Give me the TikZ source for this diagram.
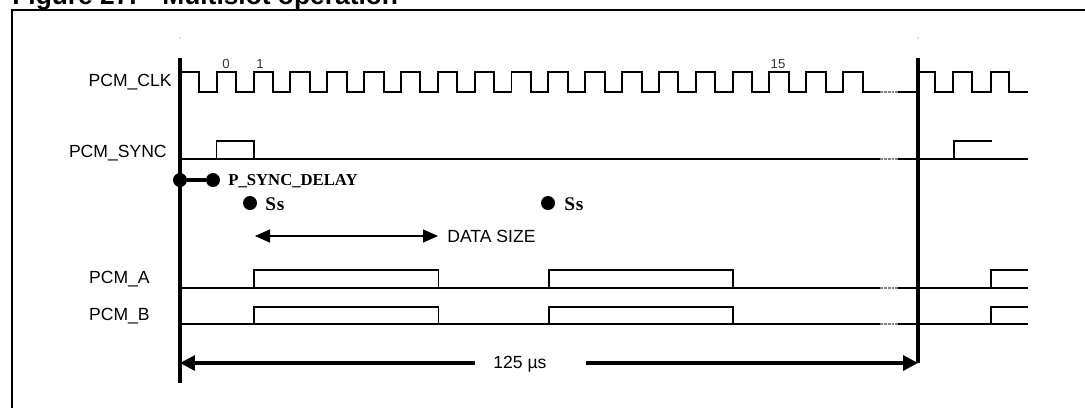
\documentclass[tikz,border=0pt]{standalone}
\usepackage{fontspec}
\setmainfont{Liberation Sans}
\newfontfamily\serifbold{Liberation Serif}
\usetikzlibrary{arrows.meta}

\tikzset{
	tdpicture/.style = {
		x = 0.02cm,
		y = -0.02cm,
		font = \fontsize{10}{12}\selectfont,
		line join = miter,
	},
	frame/.style = {
		draw,
		line width = 1.3pt,
	},
	wave/.style = {
		draw,
		line width = 0.8pt,
	},
	wave-clk/.style = {
		draw,
		line width = 1.1pt,
	},
	wave-gap/.style = {
		draw = gray,
		line width = 1pt,
		dash pattern = on 1.6pt off 0.6pt,
	},
	marker/.style = {
		draw,
		line width = 1.8pt,
	},
	sig/.style = {
		anchor = east,
		inner sep = 0pt,
	},
	bit/.style = {
		font = \fontsize{7.5}{9}\selectfont,
		text = black!80,
		inner sep = 0pt,
	},
	dot/.style = {
		circle,
		fill = black,
		inner sep = 0pt,
		minimum size = 0.28cm,
	},
	note/.style = {
		anchor = west,
		inner sep = 0pt,
		font = \serifbold\bfseries\fontsize{9.5}{11}\selectfont,
	},
	title/.style = {
		anchor = base west,
		inner sep = 0pt,
		font = \bfseries\fontsize{15}{17}\selectfont,
	},
	dim-arrow/.style = {
		draw,
		line width = 0.8pt,
		{Triangle[length = 0.3cm, width = 0.26cm]}-{Triangle[length = 0.3cm, width = 0.26cm]},
	},
	period-arrow/.style = {
		draw,
		line width = 1.8pt,
		-{Triangle[length = 0.3cm, width = 0.3cm]},
	}
}

\begin{document}
\begin{tikzpicture}[tdpicture]
	\useasboundingbox (0,0) rectangle (1085,407);

	% title, cut off by the page edge
	\node[title] (fignum) at (12,4) {Figure 27.};
	\node[title] (figtitle) at (162,4) {Multislot operation};
	\path[frame] (12,420) -- (12,10) -- (1095,10);

	% signal names
	\node[sig] (clk) at (172,82) {PCM\_CLK};
	\node[sig] (sync) at (167,153) {PCM\_SYNC};
	\node[sig] (pcma) at (150,279) {PCM\_A};
	\node[sig] (pcmb) at (150,316) {PCM\_B};

	% frame markers
	\fill[gray] (180,38) circle (0.6);
	\fill[gray] (918,38) circle (0.6);
	\path[marker] (180,58) -- (180,383);
	\path[marker] (918,58) -- (918,363);

	% PCM_CLK
	\node[bit] (b0) at (226,64) {0};
	\node[bit] (b1) at (260,64) {1};
	\node[bit] (b15) at (778,64) {15};
	\path[wave-clk] (180,72) -- (199.3,72) -- (199.3,92)
		\foreach \k in {0,...,17} {
			-- ({216.7+36.85*\k},92) -- ++(0,-20) -- ++(19.5,0) -- ++(0,20)
		} -- (880,92);
	\path[wave-gap] (880,92) -- (898,92);
	\path[wave-clk] (898,92) -- (918,92) -- (918,72) -- (935,72) -- (935,92)
		-- (953,92) -- (953,72) -- (972,72) -- (972,92)
		-- (991,92) -- (991,72) -- (1009,72) -- (1009,92) -- (1028,92);

	% PCM_SYNC
	\path[wave] (180,159) -- (880,159);
	\path[wave] (216.7,159) -- (216.7,141) -- (254,141) -- (254,159);
	\path[wave-gap] (880,159) -- (898,159);
	\path[wave] (898,159) -- (1028,159);
	\path[wave] (954,159) -- (954,141) -- (992,141);

	% sync delay and slot starts
	\node[dot] (pd0) at (180,180) {};
	\node[dot] (pd1) at (213,180) {};
	\path[marker] (pd0) -- (pd1);
	\node[note] (delay) at (228,181) {P\_SYNC\_DELAY};
	\node[dot] (ss1) at (250,203) {};
	\node[note, font = \serifbold\bfseries\fontsize{11}{13}\selectfont] (ss1txt) at (265,204) {S\kern0.5pt s};
	\node[dot] (ss2) at (548,203) {};
	\node[note, font = \serifbold\bfseries\fontsize{11}{13}\selectfont] (ss2txt) at (564,204) {S\kern0.5pt s};

	% data size
	\coordinate (dsl) at (255,236);
	\coordinate (dsr) at (438,236);
	\path[dim-arrow] (dsl) -- (dsr);
	\node[anchor = west, inner sep = 0pt] (datasize) at (447,236) {DATA SIZE};

	% PCM_A
	\path[wave] (180,288) -- (880,288);
	\path[wave] (254,288) -- (254,270) -- (438.5,270) -- (438.5,288);
	\path[wave] (549,288) -- (549,270) -- (733,270) -- (733,288);
	\path[wave-gap] (880,288) -- (898,288);
	\path[wave] (898,288) -- (1028,288);
	\path[wave] (991,288) -- (991,270) -- (1028,270);

	% PCM_B
	\path[wave] (180,324) -- (880,324);
	\path[wave] (254,324) -- (254,307) -- (438.5,307) -- (438.5,324);
	\path[wave] (549,324) -- (549,307) -- (733,307) -- (733,324);
	\path[wave-gap] (880,324) -- (898,324);
	\path[wave] (898,324) -- (1028,324);
	\path[wave] (991,324) -- (991,307) -- (1028,307);

	% frame period
	\node[inner sep = 0pt] (period) at (520,364) {125 µs};
	\coordinate (pl) at (180,363);
	\coordinate (pr) at (918,363);
	\coordinate (pls) at (475,363);
	\coordinate (prs) at (586,363);
	\path[period-arrow] (pls) -- (pl);
	\path[period-arrow] (prs) -- (pr);
\end{tikzpicture}
\end{document}
